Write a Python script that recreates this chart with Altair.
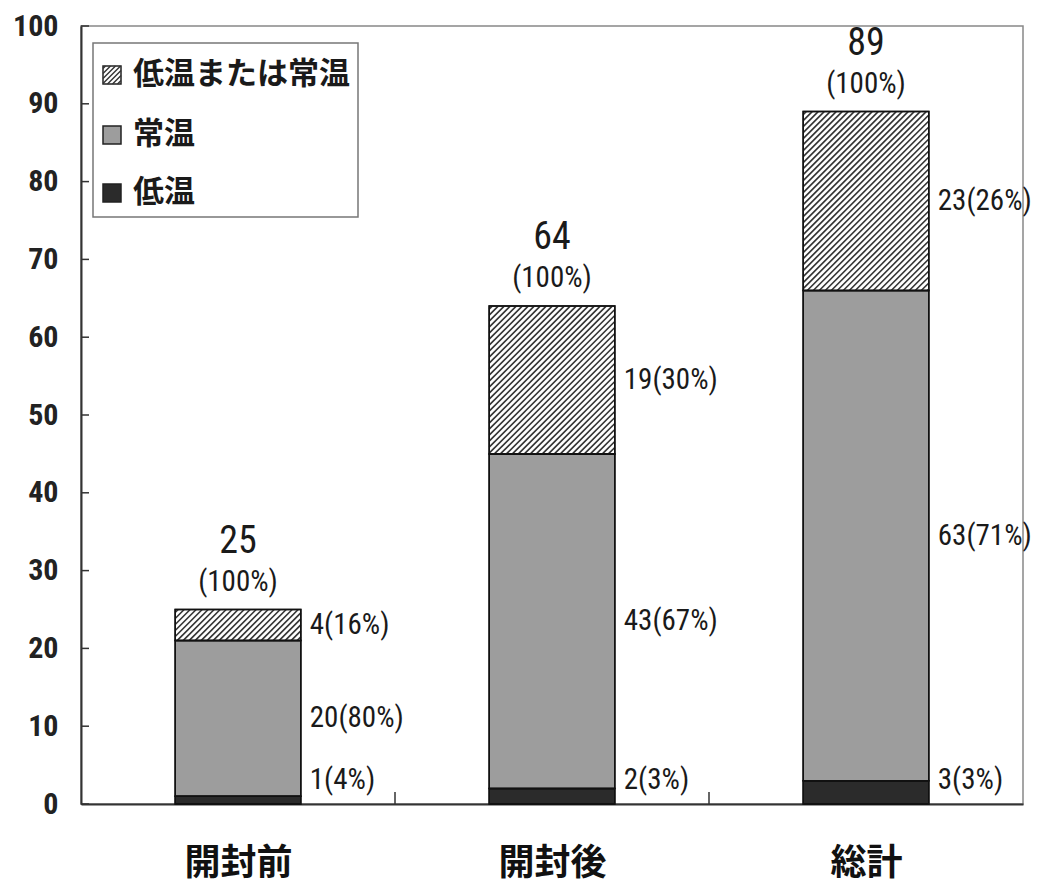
import json
import altair as alt
import pandas as pd

# ---------------- data ----------------
categories = ["開封前", "開封後", "総計"]
series = ["低温", "常温", "低温または常温"]          # stacking order, bottom to top
low_vals = [1, 2, 3]
normal_vals = [20, 43, 63]
either_vals = [4, 19, 23]
low_pct = [4, 3, 3]
normal_pct = [80, 67, 71]
either_pct = [16, 30, 26]
totals = [25, 64, 89]
total_pct_text = ["(100%)", "(100%)", "(100%)"]
y_ticks = [0, 10, 20, 30, 40, 50, 60, 70, 80, 90, 100]
legend_order = ["低温または常温", "常温", "低温"]

# ---------------- style ----------------
W, H = 942, 778
BAR_HALF = 0.2          # half bar width in category units
HATCH_STEP = 6          # px between hatch lines (horizontal)
colors = {"低温": "#2b2b2b", "常温": "#9d9d9d", "低温または常温": "#ffffff"}
NUMFONT = "Roboto Condensed, Roboto, Liberation Sans, sans-serif"
CJK = "Noto Sans CJK JP"

# ---------------- tables ----------------
rows = []
for i, cat in enumerate(categories):
    start = 0
    for s, vals, pcts in zip(series, [low_vals, normal_vals, either_vals],
                             [low_pct, normal_pct, either_pct]):
        v = vals[i]
        end = start + v
        rows.append(dict(cat=cat, series=s, start=start, end=end,
                         mid=(start + end) / 2,
                         x0=i + 0.5 - BAR_HALF, x1=i + 0.5 + BAR_HALF,
                         label=f"{v}({pcts[i]}%)",
                         bottom=(s == series[0])))
        start = end
df = pd.DataFrame(rows)

# hatch lines for the hatched series, computed from each segment's extent
sx = W / 3.0
sy = H / 100.0
hatch = []
for r in rows:
    if r["series"] != "低温または常温":
        continue
    w = (r["x1"] - r["x0"]) * sx
    h = (r["end"] - r["start"]) * sy
    k = -h + HATCH_STEP / 2
    while k < w:
        xs = max(0.0, k)
        xe = min(w, k + h)
        if xe > xs:
            hatch.append(dict(hx0=r["x0"] + xs / sx, hy0=r["start"] + (xs - k) / sy,
                              hx1=r["x0"] + xe / sx, hy1=r["start"] + (xe - k) / sy))
        k += HATCH_STEP
hatch_df = pd.DataFrame(hatch)

tot_df = pd.DataFrame(dict(cat=categories, xc=[i + 0.5 for i in range(len(categories))],
                           total=totals, pct=total_pct_text))
ytick_df = pd.DataFrame(dict(v=y_ticks))
xbound_df = pd.DataFrame(dict(b=list(range(1, len(categories)))))

xscale = alt.Scale(domain=[0, len(categories)], nice=False, zero=False)
yscale = alt.Scale(domain=[0, 100], nice=False)

label_expr = json.dumps(categories, ensure_ascii=False) + "[floor(datum.value)]"
xaxis = alt.Axis(values=[i + 0.5 for i in range(len(categories))],
                 labelExpr=label_expr, title=None, ticks=False, tickSize=0,
                 grid=False, labelFont=CJK, labelFontSize=36,
                 labelFontWeight="bold", labelColor="#111", labelPadding=42,
                 domainColor="#333", domainWidth=2)
yaxis = alt.Axis(values=y_ticks, title=None, ticks=False, tickSize=0,
                 grid=False, labelFont=NUMFONT, labelFontSize=30,
                 labelFontWeight="bold", labelColor="#222", labelPadding=23,
                 domainColor="#333", domainWidth=2)


def X(field):
    return alt.X(field, scale=xscale, axis=xaxis)


def Y(field):
    return alt.Y(field, scale=yscale, axis=yaxis)


bars = alt.Chart(df).mark_rect(stroke="#111", strokeWidth=1.5).encode(
    x=X("x0:Q"), x2="x1:Q",
    y=Y("start:Q"), y2="end:Q",
    fill=alt.Fill("series:N", scale=alt.Scale(domain=series,
                                              range=[colors[s] for s in series]),
                  legend=None),
)

hatch_lines = alt.Chart(hatch_df).mark_rule(color="#333", strokeWidth=1.6).encode(
    x=X("hx0:Q"), x2="hx1:Q",
    y=Y("hy0:Q"), y2="hy1:Q",
)

outline = alt.Chart(df).mark_rect(fill=None, stroke="#111", strokeWidth=1.5).encode(
    x=X("x0:Q"), x2="x1:Q",
    y=Y("start:Q"), y2="end:Q",
)

SIDE_SIZE = 29
side_mid = alt.Chart(df[~df["bottom"]]).mark_text(
    align="left", baseline="middle", dx=9, font=NUMFONT, fontSize=SIDE_SIZE, color="#1a1a1a"
).encode(x=X("x1:Q"), y=Y("mid:Q"), text="label:N")

side_bottom = alt.Chart(df[df["bottom"]]).mark_text(
    align="left", baseline="bottom", dx=9, dy=-9, font=NUMFONT, fontSize=SIDE_SIZE, color="#1a1a1a"
).encode(x=X("x1:Q"), y=Y("start:Q"), text="label:N")

tot_num = alt.Chart(tot_df).mark_text(
    align="center", baseline="middle", dy=-68, font=NUMFONT, fontSize=38, color="#1a1a1a"
).encode(x=X("xc:Q"), y=Y("total:Q"), text="total:N")

tot_pct = alt.Chart(tot_df).mark_text(
    align="center", baseline="middle", dy=-28, font=NUMFONT, fontSize=SIDE_SIZE, color="#1a1a1a"
).encode(x=X("xc:Q"), y=Y("total:Q"), text="pct:N")

ytick_marks = alt.Chart(ytick_df).mark_rule(color="#333", strokeWidth=1.5).encode(
    x=alt.value(0), x2=alt.value(8),
    y=Y("v:Q"),
)
xtick_marks = alt.Chart(xbound_df).mark_rule(color="#333", strokeWidth=1.5).encode(
    x=X("b:Q"),
    y=alt.value(H), y2=alt.value(H - 12),
)

# ---------------- legend (drawn in pixel space of the plot) ----------------
one = pd.DataFrame([{"k": 0}])
LB = dict(x=12, x2=277, y=17, y2=191)
legend_layers = [
    alt.Chart(one).mark_rect(fill="white", stroke="#777", strokeWidth=1.5).encode(
        x=alt.value(LB["x"]), x2=alt.value(LB["x2"]),
        y=alt.value(LB["y"]), y2=alt.value(LB["y2"]))
]
row_centers = [49, 109, 167]
SQ = 18
for name, cy in zip(legend_order, row_centers):
    sx0, sy0 = 22, cy - SQ / 2
    legend_layers.append(
        alt.Chart(one).mark_rect(fill=colors[name], stroke="#222", strokeWidth=1.5).encode(
            x=alt.value(sx0), x2=alt.value(sx0 + SQ),
            y=alt.value(sy0), y2=alt.value(sy0 + SQ)))
    if name == "低温または常温":
        step = 5
        k = -SQ + step / 2
        while k < SQ:
            xs = max(0.0, k)
            xe = min(SQ, k + SQ)
            if xe > xs:
                legend_layers.append(
                    alt.Chart(one).mark_rule(color="#333", strokeWidth=1.4).encode(
                        x=alt.value(sx0 + xs), x2=alt.value(sx0 + xe),
                        y=alt.value(sy0 + SQ - (xs - k)), y2=alt.value(sy0 + SQ - (xe - k))))
            k += step
    legend_layers.append(
        alt.Chart(one).mark_text(text=name, align="left", baseline="middle", font=CJK,
                                 fontSize=31, fontWeight="bold", color="#1a1a1a").encode(
            x=alt.value(52), y=alt.value(cy)))

chart = alt.layer(
    bars, hatch_lines, outline, side_mid, side_bottom, tot_num, tot_pct,
    ytick_marks, xtick_marks, *legend_layers
).properties(
    width=W, height=H,
    autosize="none",
    padding={"left": 73, "top": 18, "right": 8, "bottom": 84},
    background="white",
).configure_view(stroke="#888", strokeWidth=1.5)

chart.save("out.html", embed_options={"renderer": "svg", "actions": False})
